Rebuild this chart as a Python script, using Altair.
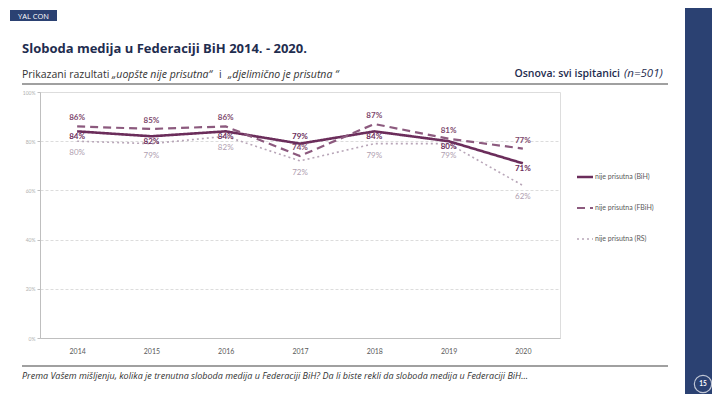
import altair as alt
import pandas as pd

years = ["2014", "2015", "2016", "2017", "2018", "2019", "2020"]
series = ["nije prisutna (BiH)", "nije prisutna (FBiH)", "nije prisutna (RS)"]
bih = [84, 82, 84, 79, 84, 80, 71]
fbih = [86, 85, 86, 74, 87, 81, 77]
rs = [80, 79, 82, 72, 79, 79, 62]
y_ticks = [0, 20, 40, 60, 80, 100]

title = "Sloboda medija u Federaciji BiH 2014. - 2020."
footer = "Prema Vašem mišljenju, kolika je trenutna sloboda medija u Federaciji BiH? Da li biste rekli da sloboda medija u Federaciji BiH..."

rows = []
for s, vals in zip(series, [bih, fbih, rs]):
    for y, v in zip(years, vals):
        rows.append({"year": y, "value": v, "series": s, "label": f"{v}%"})
df = pd.DataFrame(rows)

colors = ["#6b2d5b", "#8c5a7e", "#b8a6b8"]
label_colors = ["#6b2d5b", "#7e4a6e", "#b0a0b0"]
FONT = "Lato"
HFONT = "Open Sans"
NAVY = "#1f2d4f"
BAR = "#2b4172"

W, H = 520, 246

x_enc = alt.X("year:O", scale=alt.Scale(type="point", padding=0.5, domain=years),
              axis=alt.Axis(title=None, labelAngle=0, labelFontSize=7, labelColor="#595959",
                            labelFont=FONT, ticks=False, domainColor="#bfbfbf",
                            labelPadding=9, grid=False))
y_enc = alt.Y("value:Q", scale=alt.Scale(domain=[0, 100], nice=False),
              axis=alt.Axis(title=None, values=y_ticks, labelExpr="datum.value + '%'",
                            labelFontSize=5, labelColor="#b0b0b0", labelFont=FONT,
                            tickSize=3, tickColor="#bfbfbf", domainColor="#bfbfbf",
                            grid=True, gridColor="#dcdcdc", gridDash=[3, 2], gridWidth=1))

base = alt.Chart(df)

lines = []
styles = [(2.6, [1, 0]), (2.2, [8, 5]), (1.6, [2, 3])]
for s, c, (w, d) in zip(series, colors, styles):
    lines.append(base.transform_filter(alt.datum.series == s).mark_line(
        color=c, strokeWidth=w, strokeDash=d, clip=False).encode(x=x_enc, y=y_enc))

def lab(s, dy, col, weight="normal", extra=None):
    ch = base.transform_filter(alt.datum.series == s)
    if extra is not None:
        ch = ch.transform_filter(extra)
    return ch.mark_text(dy=dy, fontSize=8, font=FONT, color=col, fontWeight=weight).encode(
        x=alt.X("year:O", scale=alt.Scale(type="point", padding=0.5, domain=years)),
        y=alt.Y("value:Q", scale=alt.Scale(domain=[0, 100], nice=False)),
        text="label:N")

labels = [
    lab(series[1], -8, label_colors[1], "bold"),
    lab(series[0], 6, label_colors[0], "bold", alt.datum.year != "2017"),
    lab(series[0], -7, label_colors[0], "bold", alt.datum.year == "2017"),
    lab(series[2], 12, label_colors[2]),
]

OX, OY = 40, 92  # page position of plot origin

def px(x):
    return x - OX

def py(y):
    return y - OY

def txt(text, x, y, size=10, color=NAVY, weight="normal", style="normal", align="left", font=FONT, baseline="alphabetic"):
    return alt.Chart(pd.DataFrame({"t": [text]})).mark_text(
        fontSize=size, color=color, fontWeight=weight, fontStyle=style, align=align,
        font=font, baseline=baseline).encode(x=alt.value(px(x)), y=alt.value(py(y)), text="t:N")

def rect(x1, y1, x2, y2, color):
    return alt.Chart(pd.DataFrame({"a": [0]})).mark_rect(color=color).encode(
        x=alt.value(px(x1)), x2=alt.value(px(x2)), y=alt.value(py(y1)), y2=alt.value(py(y2)))

def hline(x1, x2, y, color, width=1, dash=None):
    kw = {"color": color, "strokeWidth": width}
    if dash:
        kw["strokeDash"] = dash
    return alt.Chart(pd.DataFrame({"a": [0]})).mark_rule(**kw).encode(
        x=alt.value(px(x1)), x2=alt.value(px(x2)), y=alt.value(py(y)), y2=alt.value(py(y)))

deco = [
    rect(685, 0, 720, 405, BAR),
    rect(10, 10, 57, 21, BAR),
    txt("YAL CON", 33.5, 18.5, size=7.5, color="white", align="center", font=HFONT),
    txt(title, 22, 53, size=13, weight="bold", font=HFONT),
    txt("Prikazani razultati ", 22, 78, size=10.5, color="#333333", font=HFONT),
    txt("„uopšte nije prisutna“", 112, 78, size=10.5, color="#333333", style="italic", font=HFONT),
    txt(" i ", 219, 78, size=10.5, color="#333333", font=HFONT),
    txt("„djelimično je prisutna “", 228, 78, size=10.5, color="#333333", style="italic", font=HFONT),
    txt("Osnova: svi ispitanici", 620, 77, size=10.5, weight=600, align="right", font=HFONT),
    txt("(n=501)", 624, 77, size=11.5, style="italic", align="left", font=HFONT),
    hline(22, 668, 84, "#808080", 1.5),
    hline(22, 668, 366, "#808080", 1.5),
    txt(footer, 22, 379, size=9, color="#333333", style="italic", font=HFONT),
]

# page number circle
circle = alt.Chart(pd.DataFrame({"a": [0]})).mark_point(
    shape="circle", size=300, filled=False, color="white", strokeWidth=1.2).encode(
    x=alt.value(px(703)), y=alt.value(py(384)))
deco.append(circle)
deco.append(txt("15", 703, 384, size=6.5, color="white", align="center", baseline="middle", weight="bold"))

# legend
leg_y = [177, 208, 239]
for s, c, (w, d), ly in zip(series, colors, styles, leg_y):
    deco.append(hline(577, 593, ly, c, w, d))
    deco.append(txt(s, 595, ly, size=7, color="#595959", baseline="middle"))

chart = alt.layer(*deco, *lines, *labels).properties(
    width=W, height=H,
    padding={"left": 32, "top": 84, "right": 152, "bottom": 56},
    autosize=alt.AutoSizeParams(type="none"),
).configure_view(stroke=None).configure(background="white")

chart.save("out.html", embed_options={"renderer": "svg", "actions": False})
